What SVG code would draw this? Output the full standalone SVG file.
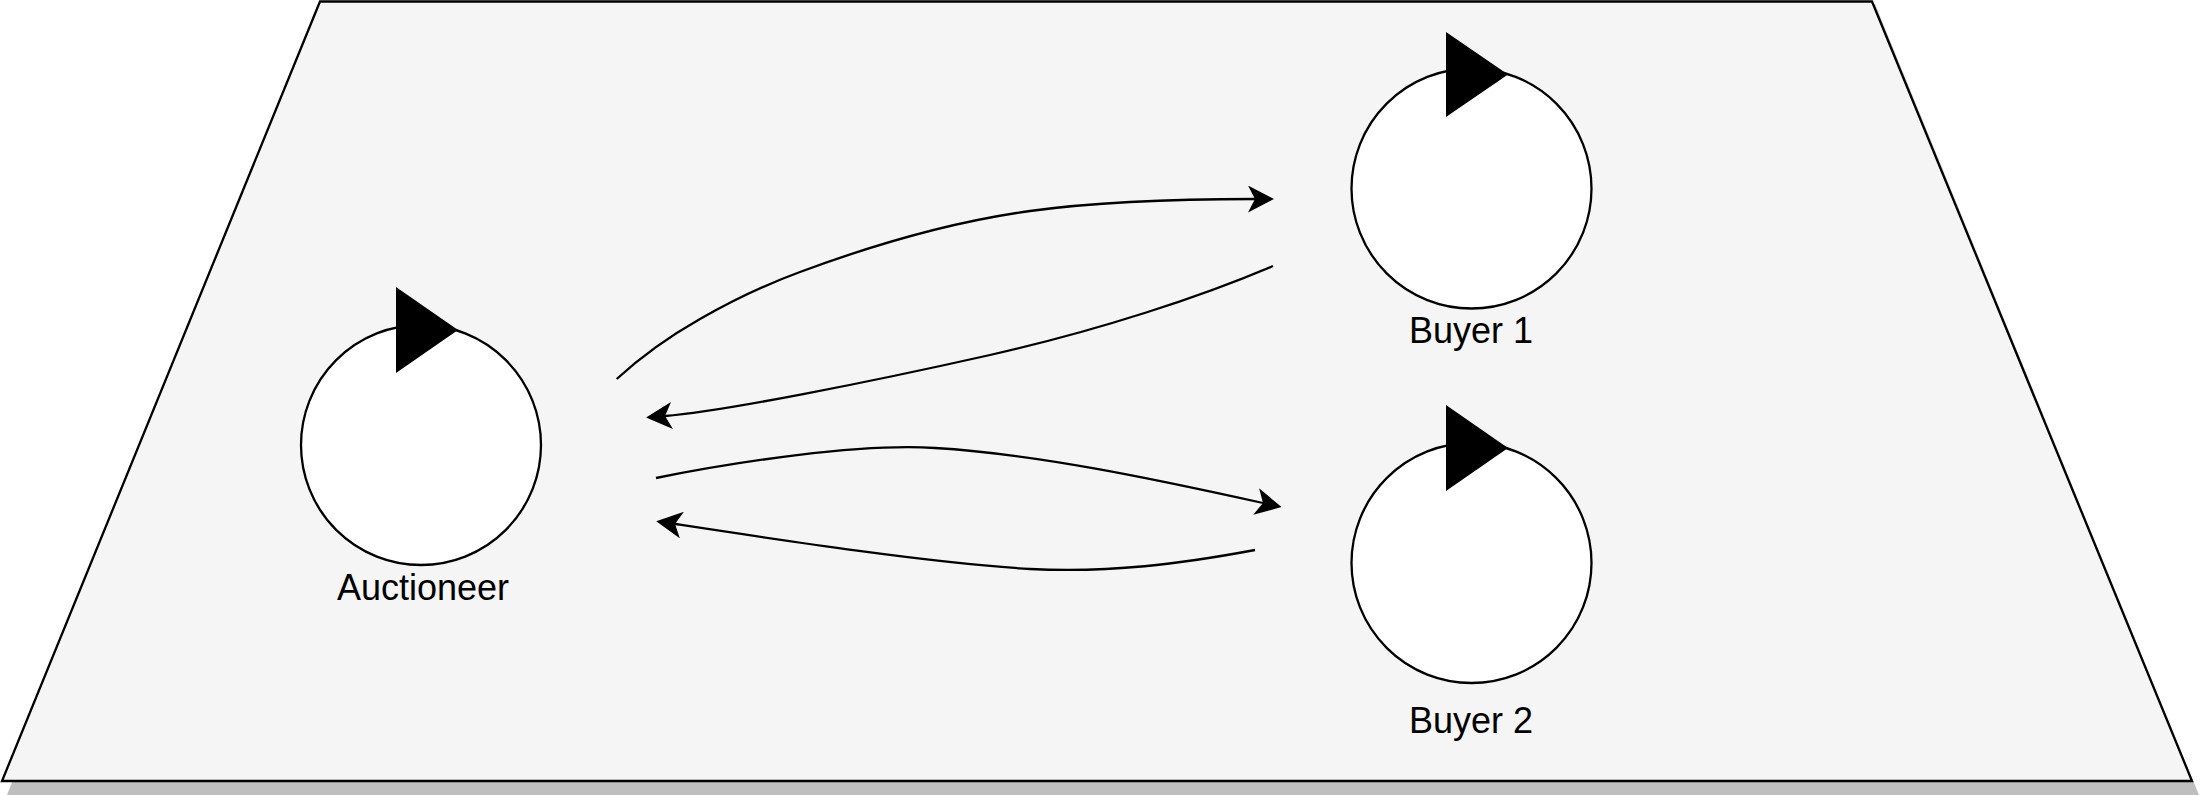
<svg xmlns="http://www.w3.org/2000/svg" width="2202" height="795" viewBox="0 0 2202 795">
  <style>
    .agent { fill: #ffffff; stroke: #000000; stroke-width: 2.3; }
    .flag { fill: #000000; stroke: none; }
    .label { font-family: "Liberation Sans", Arial, Helvetica, sans-serif; font-size: 36px; fill: #000000; text-anchor: middle; }
    .edge { fill: none; stroke: #000000; stroke-width: 2.3; marker-end: url(#arrow); }
  </style>
  <defs>
    <marker id="arrow" viewBox="0 0 26 27" markerUnits="userSpaceOnUse" markerWidth="26" markerHeight="27" refX="7" refY="13.5" orient="auto">
      <path d="M26,13.5 L0,0 L7,13.5 L0,27 Z" fill="#000000"/>
    </marker>
  </defs>
  <rect width="2202" height="795" fill="#ffffff"/>
  <g id="environment">
    <polygon points="323,4 1875,4 2199,795 7,795" fill="#bfbfbf"/>
    <polygon points="320,1.5 1872,1.5 2192,781 2,781" fill="#f5f5f5" stroke="#000000" stroke-width="2.3"/>
  </g>
  <g id="connectors">
    <path class="edge" d="M616.7,379 C645,353 670,336 700,319 C735,299 770,283 800,272 C870,246 950,222 1030,211 C1110,200 1200,199 1255,199"/>
    <path class="edge" d="M1273,266 C1200,297 1100,330 990,355 C870,382 720,412 665,416"/>
    <path class="edge" d="M656,478 C735,462 860,443 935,448 C1035,454 1150,478 1263,503"/>
    <path class="edge" d="M1255,550 C1180,564 1110,573 1030,569 C930,563 780,540 675,524"/>
  </g>
  <g id="auctioneer">
    <circle class="agent" cx="421" cy="445" r="120"/>
    <polygon class="flag" points="396,287 458,330 396,373"/>
    <text class="label" x="423" y="600">Auctioneer</text>
  </g>
  <g id="buyer1">
    <circle class="agent" cx="1471.5" cy="188.5" r="120"/>
    <polygon class="flag" points="1446,32 1508,74.5 1446,117"/>
    <text class="label" x="1471" y="343">Buyer 1</text>
  </g>
  <g id="buyer2">
    <circle class="agent" cx="1471.5" cy="563" r="120"/>
    <polygon class="flag" points="1446,405 1508,448 1446,491"/>
    <text class="label" x="1471" y="733">Buyer 2</text>
  </g>
</svg>
